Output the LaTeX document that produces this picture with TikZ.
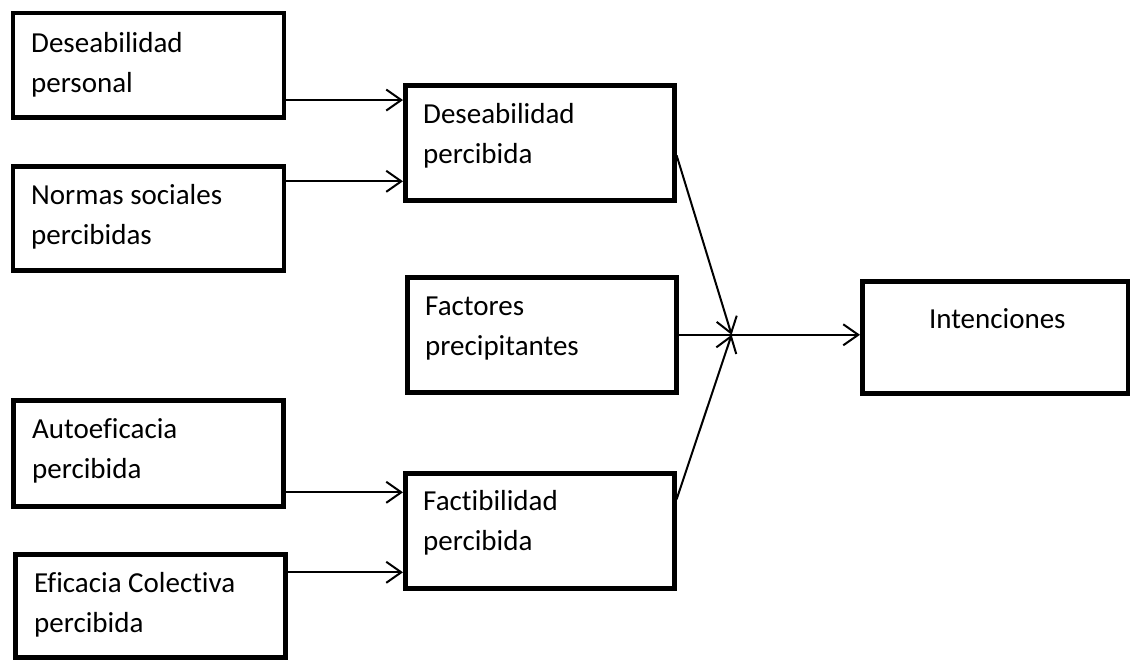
\documentclass[tikz,border=0pt]{standalone}
\usepackage{fontspec}
\setmainfont{Carlito}[Ligatures={NoCommon,NoRare,NoDiscretionary}]
\usetikzlibrary{arrows.meta}

% strut that fixes the top of every text block above its first baseline
\newcommand{\firstline}{\rule{0pt}{25pt}}

\begin{document}
\begin{tikzpicture}[x=1pt, y=-1pt,
  box/.style={draw, line width=4.6pt, rectangle, inner sep=0pt, anchor=north west},
  boxtext/.style={anchor=north west, inner sep=0pt, align=left,
    font=\fontsize{29}{40}\selectfont},
  arr/.style={line width=2pt, -{Straight Barb[length=15pt, width=21pt, line width=2pt]}},
  link/.style={line width=2pt}]

\useasboundingbox (0,0) rectangle (1130,659);

% boxes (given by their top left corner and size)
\node[box, minimum width=271pt, minimum height=104.5pt] (b1) at (10.5,10.5) {};
\node[box, minimum width=271pt, minimum height=104pt]   (b2) at (10.5,164) {};
\node[box, minimum width=269pt, minimum height=115pt]   (b3) at (403,83) {};
\node[box, minimum width=269pt, minimum height=115pt]   (b4) at (405,275) {};
\node[box, minimum width=266pt, minimum height=112pt]   (b5) at (860,279) {};
\node[box, minimum width=270pt, minimum height=106pt]   (b6) at (11,398) {};
\node[box, minimum width=269pt, minimum height=115pt]   (b7) at (403,471) {};
\node[box, minimum width=270pt, minimum height=103pt]   (b8) at (13,552) {};

% texts
\node[boxtext] (t1) at ([xshift=20.5pt, yshift=-16.5pt]b1.north west) {\firstline Deseabilidad\\personal};
\node[boxtext] (t2) at ([xshift=20.5pt, yshift=-15pt]b2.north west) {\firstline Normas sociales\\percibidas};
\node[boxtext] (t3) at ([xshift=20pt, yshift=-15pt]b3.north west) {\firstline Deseabilidad\\percibida};
\node[boxtext] (t4) at ([xshift=20pt, yshift=-15pt]b4.north west) {\firstline Factores\\precipitantes};
\node[anchor=base, inner sep=0pt, font=\fontsize{29}{40}\selectfont] (t5)
  at ([xshift=2pt, yshift=-49pt]b5.north) {Intenciones};
\node[boxtext] (t6) at ([xshift=21pt, yshift=-15pt]b6.north west) {\firstline Autoeficacia\\percibida};
\node[boxtext] (t7) at ([xshift=20pt, yshift=-14pt]b7.north west) {\firstline Factibilidad\\percibida};
\node[boxtext] (t8) at ([xshift=21pt, yshift=-15pt]b8.north west) {\firstline Eficacia Colectiva\\percibida};

% connector start points
\coordinate (p1) at ([yshift=-35pt]b1.east);
\coordinate (p2) at ([yshift=37pt]b2.east);
\coordinate (p6) at ([yshift=-39pt]b6.east);
\coordinate (p8) at ([yshift=33.5pt]b8.east);
\coordinate (q3) at ([yshift=-12.5pt]b3.east);
\coordinate (q7) at ([yshift=31.5pt]b7.east);
\coordinate (m)  at ([xshift=53pt]b4.east);

% connectors
\draw[arr] (p1) -- (p1 -| b3.west);
\draw[arr] (p2) -- (p2 -| b3.west);
\draw[arr] (p6) -- (p6 -| b7.west);
\draw[arr] (p8) -- (p8 -| b7.west);
\draw[arr] (q3) -- (m);
\draw[arr] (q7) -- (m);
\draw[link] (b4.east) -- (m);
\draw[arr] (m) -- (m -| b5.west);

\end{tikzpicture}
\end{document}
